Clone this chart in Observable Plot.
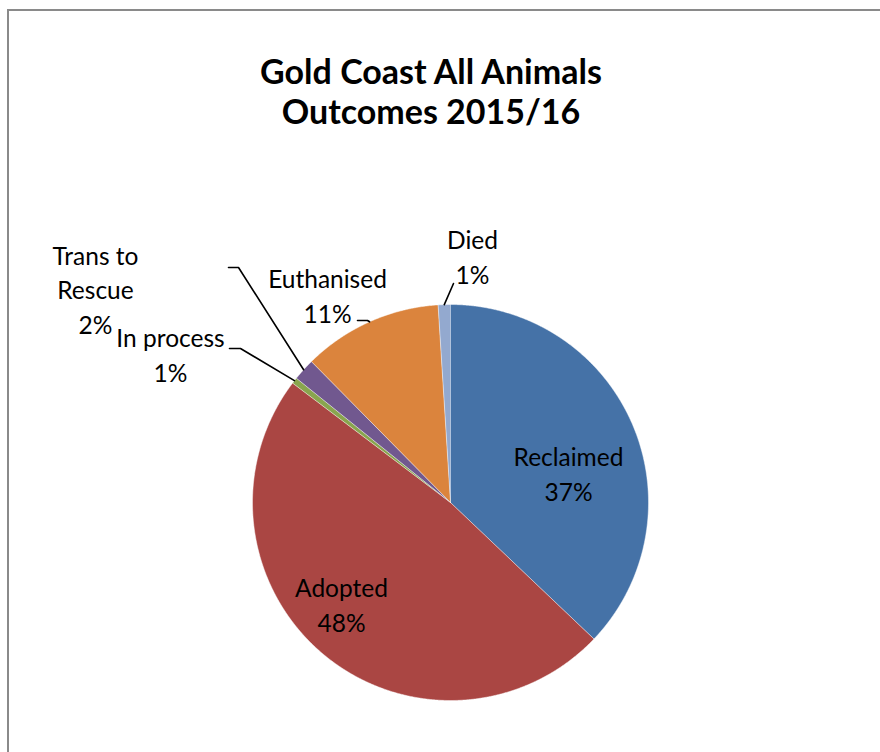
<!DOCTYPE html>
<html><head><meta charset="utf-8">
<script src="https://cdn.jsdelivr.net/npm/d3@7"></script>
<script src="https://cdn.jsdelivr.net/npm/@observablehq/plot@0.6"></script>
<style>
body{margin:0;background:#fff;}
#wrap{position:relative;width:880px;height:752px;overflow:hidden;background:#fff;font-family:Lato,sans-serif;}
#border{position:absolute;left:7px;top:9px;width:1000px;height:1000px;border:2px solid #8a8a8a;box-sizing:border-box;}
#title{position:relative;height:160px;box-sizing:border-box;padding-top:51px;width:862px;text-align:center;font-weight:bold;font-size:34px;line-height:40px;color:#000;}
#chart{position:absolute;left:0;top:160px;}
</style></head><body>
<div id="wrap"><div id="border"></div><div id="title">Gold Coast All Animals<br>Outcomes 2015/16</div><div id="chart"></div></div>
<script>
// ---- data ----
const categories = ["Reclaimed", "Adopted", "In process", "Trans to Rescue", "Euthanised", "Died"];
const percents = [37.1, 48.2, 0.5, 1.8, 11.4, 1.0];
const labelNames = ["Reclaimed", "Adopted", "In process", "Trans to\nRescue", "Euthanised", "Died"];
const colors = ["#4572A7", "#AA4643", "#89A54E", "#71588F", "#DB843D", "#93A9CF"];

// ---- layout (page pixel coordinates) ----
const top0 = 160;               // SVG starts below the HTML title
const cx = 450, cy = 502, R = 198;
const labelX = [568, 341, 170, 95, 327, 472];
const labelY = [472, 603, 353, 288, 294, 255];
// leader line elbow / end points (null = label inside slice)
const leaders = [null, null, [[240, 348], [229, 348]], [[238, 267], [228, 267]], [[367, 320], [357, 320]], [[453, 283]]];

const pie = d3.pie().sort(null).value(d => d)(percents);
const polar = (a, r) => [cx + r * Math.sin(a), cy - r * Math.cos(a)];

const slicePts = [];
pie.forEach((p, i) => {
  const n = Math.max(2, Math.ceil((p.endAngle - p.startAngle) / 0.004));
  slicePts.push({cat: categories[i], x: cx, y: cy});
  for (let k = 0; k <= n; k++) {
    const a = p.startAngle + (p.endAngle - p.startAngle) * k / n;
    const [x, y] = polar(a, R);
    slicePts.push({cat: categories[i], x, y});
  }
});

const labels = categories.map((c, i) => ({
  cat: c, x: labelX[i], y: labelY[i],
  text: labelNames[i] + "\n" + Math.round(percents[i]) + "%"
}));

const leaderPts = [];
pie.forEach((p, i) => {
  if (!leaders[i]) return;
  const [x0, y0] = polar((p.startAngle + p.endAngle) / 2, R);
  leaderPts.push({cat: categories[i], x: x0, y: y0});
  leaders[i].forEach(([x, y]) => leaderPts.push({cat: categories[i], x, y}));
});

const chart = Plot.plot({
  width: 880,
  height: 752 - top0,
  margin: 0,
  x: {domain: [0, 880], range: [0, 880], axis: null},
  y: {domain: [top0, 752], range: [0, 752 - top0], axis: null},
  color: {domain: categories, range: colors},
  style: {background: "transparent", fontFamily: "Lato, sans-serif", overflow: "visible"},
  marks: [
    Plot.line(slicePts, {x: "x", y: "y", z: "cat", fill: "cat", stroke: "white", strokeWidth: 0.6, strokeOpacity: 0.8, curve: "linear"}),
    Plot.line(leaderPts, {x: "x", y: "y", z: "cat", stroke: "black", strokeWidth: 1.6, curve: "linear"}),
    Plot.text(labels, {x: "x", y: "y", text: "text", fontSize: 24.5, lineHeight: 1.4, textAnchor: "middle", fill: "black"})
  ]
});
document.getElementById("chart").appendChild(chart);
</script>
</body></html>
